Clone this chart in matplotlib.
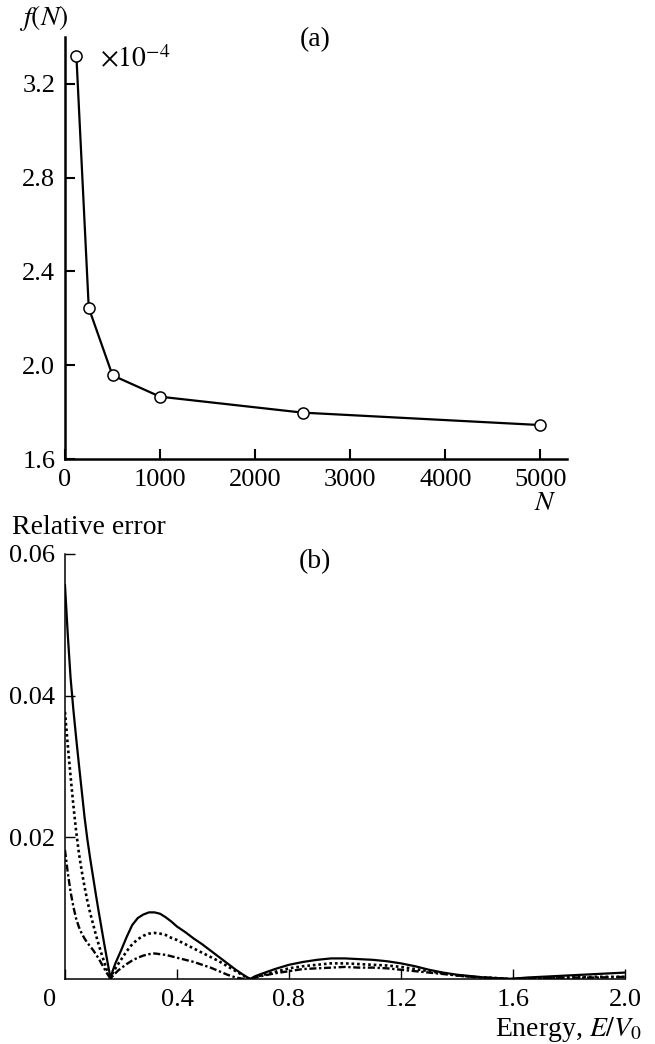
import matplotlib
matplotlib.use('Agg')
from matplotlib import pyplot as plt

# panel (a): convergence of f(N) with the number of points N (values x 1e-4)
n_points = [120, 250, 500, 1000, 2500, 5000]
f_values = [3.32, 2.245, 1.957, 1.866, 1.798, 1.745]

# panel (b): relative error against the reduced energy E/V0
energy = [0.00, 0.01, 0.02, 0.03, 0.04, 0.05, 0.06, 0.07, 0.08, 0.09,
          0.10, 0.11, 0.12, 0.13, 0.14, 0.15, 0.163,
          0.17, 0.18, 0.19, 0.20, 0.22, 0.24, 0.26, 0.28, 0.30, 0.32,
          0.34, 0.36, 0.38, 0.40, 0.43, 0.46, 0.49, 0.52, 0.55, 0.58,
          0.61, 0.64, 0.661,
          0.68, 0.70, 0.75, 0.80, 0.85, 0.90, 0.95, 1.00, 1.05, 1.10,
          1.15, 1.20, 1.25, 1.30, 1.35, 1.40, 1.45, 1.50, 1.55, 1.59,
          1.65, 1.70, 1.80, 1.90, 2.00]
err_solid = [0.0556, 0.0486, 0.0425, 0.0380, 0.0340, 0.0302, 0.0265, 0.0228, 0.0197, 0.0170,
             0.0145, 0.0120, 0.0096, 0.0073, 0.0050, 0.0028, 0.0,
             0.0011, 0.0022, 0.0031, 0.0040, 0.0059, 0.0076, 0.0086, 0.0091, 0.0094, 0.0094,
             0.0092, 0.0087, 0.0081, 0.0074, 0.0066, 0.0057, 0.0049, 0.0040, 0.0031, 0.0022,
             0.0013, 0.0005, 0.0,
             0.0004, 0.0007, 0.0014, 0.0020, 0.0024, 0.0027, 0.0029, 0.0029, 0.0028, 0.0027,
             0.0025, 0.0022, 0.0018, 0.0013, 0.0009, 0.0006, 0.0004, 0.0002, 0.0001, 0.0,
             0.0002, 0.0003, 0.0005, 0.0007, 0.0009]
err_dotted = [0.0377, 0.0330, 0.0286, 0.0245, 0.0208, 0.0177, 0.0152, 0.0130, 0.0110, 0.0093,
              0.0078, 0.0063, 0.0049, 0.0036, 0.0024, 0.0012, 0.0,
              0.0008, 0.0015, 0.0021, 0.0027, 0.0039, 0.0049, 0.0056, 0.0061, 0.0064, 0.0065,
              0.0064, 0.0062, 0.0058, 0.0055, 0.0049, 0.0043, 0.0037, 0.0031, 0.0025, 0.0018,
              0.0011, 0.0004, 0.0,
              0.0003, 0.0005, 0.0010, 0.0015, 0.0018, 0.0020, 0.0022, 0.0022, 0.0021, 0.0020,
              0.0019, 0.0017, 0.0014, 0.0011, 0.0008, 0.0005, 0.0003, 0.0002, 0.0001, 0.0,
              0.0001, 0.0001, 0.0002, 0.0003, 0.0003]
err_dashdot = [0.0182, 0.0150, 0.0123, 0.0102, 0.0085, 0.0073, 0.0064, 0.0057, 0.0051, 0.0046,
               0.0041, 0.0035, 0.0029, 0.0022, 0.0015, 0.0008, 0.0,
               0.0004, 0.0008, 0.0012, 0.0015, 0.0021, 0.0026, 0.0030, 0.0033, 0.0035, 0.0036,
               0.0035, 0.0034, 0.0032, 0.0030, 0.0027, 0.0024, 0.0020, 0.0016, 0.0011, 0.0006,
               0.0002, 0.0, 0.0,
               0.0002, 0.0004, 0.0008, 0.0011, 0.0014, 0.0015, 0.0016, 0.0017, 0.0016, 0.0016,
               0.0015, 0.0013, 0.0011, 0.0009, 0.0007, 0.0005, 0.0003, 0.0002, 0.0001, 0.0,
               0.0001, 0.0001, 0.0002, 0.0002, 0.0003]

plt.rcParams['font.family'] = ['Liberation Serif', 'DejaVu Serif']
plt.rcParams['mathtext.fontset'] = 'stix'
plt.rcParams['font.size'] = 19


def _bare_axes(ax: plt.Axes, spine_width: float, tick_width: float):
    """Keep only the left and bottom axis lines, ticks pointing inwards"""
    for side in ('top', 'right'):
        ax.spines[side].set_visible(False)
    for side in ('left', 'bottom'):
        ax.spines[side].set_linewidth(spine_width)
    ax.tick_params(direction='in', length=7, width=tick_width,
                   top=False, right=False, labelsize=19, pad=7)


def plot_convergence(fig: plt.Figure):
    """Upper panel: f(N) with open circle markers"""
    ax = fig.add_axes([0.0992, 0.5603, 0.7664, 0.4042])
    ax.plot(n_points, f_values, color='black', lw=1.6, marker='o', ms=8,
            mfc='white', mec='black', mew=1.1, clip_on=False, zorder=3)
    ax.set_xlim(0, 5280)
    ax.set_ylim(1.6, 3.4)
    ax.set_xticks([0, 1000, 2000, 3000, 4000, 5000])
    ax.set_yticks([1.6, 2.0, 2.4, 2.8, 3.2])
    ax.set_yticklabels(['1.6', '2.0', '2.4', '2.8', '3.2'])
    _bare_axes(ax, 1.8, 1.5)

    fig.text(68 / 655, 1 - 18 / 1044, '$f(N)$', ha='right', va='center', fontsize=20)
    fig.text(315 / 655, 1 - 40 / 1044, '(a)', ha='center', va='center', fontsize=20)
    fig.text(100 / 655, 1 - 60 / 1044, r'$\times10^{-4}$', ha='left', va='center', fontsize=20)
    fig.text(545 / 655, 1 - 503 / 1044, '$N$', ha='center', va='center', fontsize=20)


def plot_error(fig: plt.Figure):
    """Lower panel: relative error curves for three settings"""
    ax = fig.add_axes([0.0992, 0.0623, 0.855, 0.4071])
    ax.plot(energy, err_solid, color='black', lw=1.6, ls='-')
    ax.plot(energy, err_dotted, color='black', lw=1.9, ls=(0, (1, 1.1)))
    ax.plot(energy, err_dashdot, color='black', lw=1.7, ls=(0, (3, 1.1, 1, 1.1)))
    ax.set_xlim(0, 2.0)
    ax.set_ylim(0, 0.06)
    ax.set_xticks([0, 0.4, 0.8, 1.2, 1.6, 2.0])
    ax.set_xticklabels(['', '0.4', '0.8', '1.2', '1.6', '2.0'])
    ax.set_yticks([0.02, 0.04, 0.06])
    ax.set_yticklabels(['0.02', '0.04', '0.06'])
    _bare_axes(ax, 1.1, 1.0)

    # the origin label is shared by both axes, so it sits left of the corner
    ax.annotate('0', xy=(0, 0), xycoords='data', xytext=(-11, -15),
                textcoords='offset points', ha='center', va='center', fontsize=19)

    fig.text(12 / 655, 1 - 528 / 1044, 'Relative error', ha='left', va='center', fontsize=20)
    fig.text(315 / 655, 1 - 562 / 1044, '(b)', ha='center', va='center', fontsize=20)
    fig.text(642 / 655, 1 - 1030 / 1044, 'Energy, $E/V_0$', ha='right', va='center',
             fontsize=20)


if __name__ == "__main__":
    figure = plt.figure(figsize=(6.55, 10.44), dpi=100)
    plot_convergence(figure)
    plot_error(figure)
    figure.savefig('out.png', dpi=100)
    plt.close(figure)
